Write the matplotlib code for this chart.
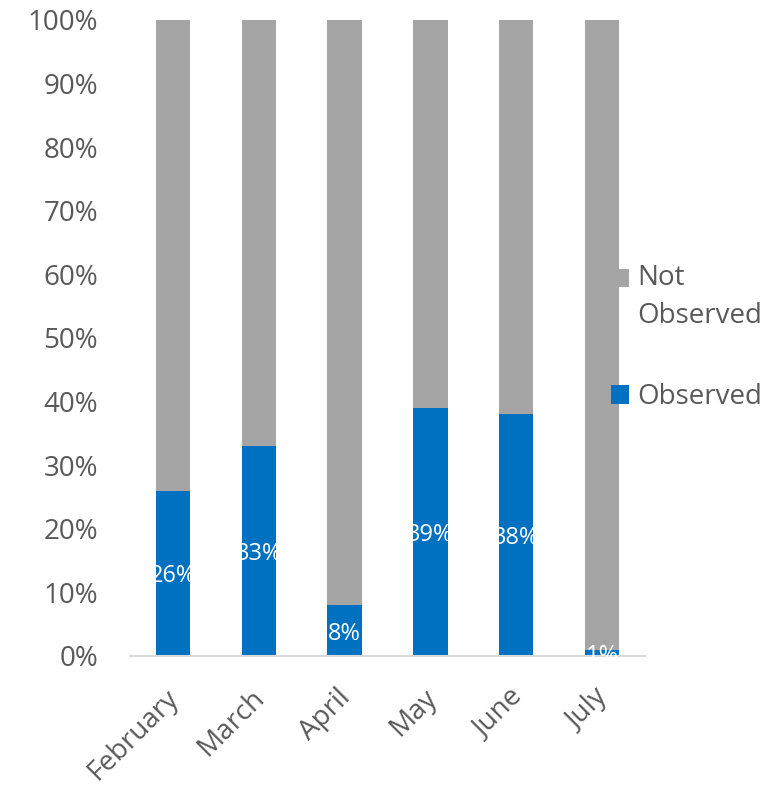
import numpy as np
import matplotlib
matplotlib.use('Agg')
import matplotlib.pyplot as plt
from matplotlib.ticker import PercentFormatter
from matplotlib.patches import Rectangle
from matplotlib.legend_handler import HandlerPatch
from matplotlib.transforms import ScaledTranslation

plt.rcParams['font.family'] = ['Open Sans', 'DejaVu Sans']

months = ['February', 'March', 'April', 'May', 'June', 'July']
observed = [26, 33, 8, 39, 38, 1]
not_observed = [100 - v for v in observed]

blue = '#0070c0'
grey = '#a5a5a5'
text_col = '#595959'
fs = 20
line_sp = 1.5

fig = plt.figure(figsize=(7.69, 7.85), dpi=100)
ax = fig.add_axes([130 / 769, 1 - 656 / 785, 515 / 769, 636 / 785])

x = np.arange(len(months))
b1 = ax.bar(x, observed, width=0.4, color=blue)
b2 = ax.bar(x, not_observed, width=0.4, bottom=observed, color=grey)

# подписи внутри синих столбцов
for xi, v in zip(x, observed):
    ax.text(xi, v / 2, f'{v}%', ha='center', va='center_baseline', color='white', fontsize=17)

ax.set_xlim(-0.5, len(months) - 0.5)
ax.set_ylim(0, 100)
ax.set_yticks(np.arange(0, 101, 10))
ax.yaxis.set_major_formatter(PercentFormatter(decimals=0))
ax.set_xticks(x)
ax.set_xticklabels(months, rotation=45, ha='right', rotation_mode='anchor')
ax.tick_params(axis='both', length=0, labelsize=fs, labelcolor=text_col)
ax.tick_params(axis='y', pad=23)
ax.tick_params(axis='x', pad=20)
shift = ScaledTranslation(-8 / 100, 0, fig.dpi_scale_trans)
for lbl in ax.get_xticklabels():
    lbl.set_transform(lbl.get_transform() + shift)

for s in ['top', 'right', 'left']:
    ax.spines[s].set_visible(False)
ax.spines['bottom'].set_color('#d9d9d9')
ax.spines['bottom'].set_linewidth(1.5)


# квадрат легенды напротив первой строки подписи
def square_top(legend, orig_handle, xdescent, ydescent, width, height, fontsize):
    return Rectangle((-xdescent, -ydescent + fontsize * 0.72), width, height)


def square_mid(legend, orig_handle, xdescent, ydescent, width, height, fontsize):
    return Rectangle((-xdescent, -ydescent), width, height)


h_not, h_obs = b2.patches[0], b1.patches[0]
leg = fig.legend(handles=[h_not, h_obs], labels=['Not\nObserved', 'Observed'],
                 loc='upper left', bbox_to_anchor=(611 / 769, 1 - 264 / 785),
                 frameon=False, fontsize=fs, handlelength=0.65, handleheight=0.65,
                 handletextpad=0.3, labelspacing=1.9, borderpad=0, borderaxespad=0,
                 handler_map={h_not: HandlerPatch(patch_func=square_top),
                              h_obs: HandlerPatch(patch_func=square_mid)})
for t in leg.get_texts():
    t.set_color(text_col)
    t.set_linespacing(line_sp)

fig.savefig('out.png', dpi=100)
